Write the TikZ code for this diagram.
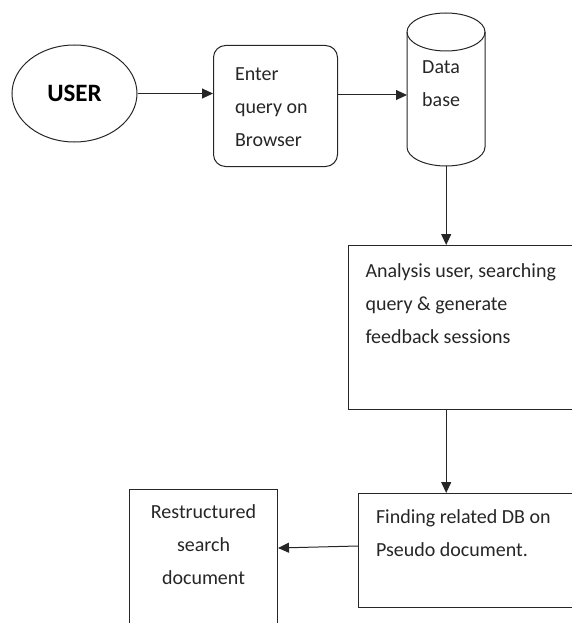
\documentclass[tikz,border=0pt]{standalone}
\usepackage{fontspec}
\setmainfont{Carlito}
\usetikzlibrary{arrows.meta,shapes.geometric}
\begin{document}
\begin{tikzpicture}[x=1pt,y=-1pt,
  line/.style={draw=black!85, line width=1pt},
  arr/.style={line, -{Triangle[length=11pt,width=10pt]}},
  boxtext/.style={font=\fontsize{20}{33}\selectfont, text=black!85},
  pbox/.style={line, rectangle, inner sep=0pt, anchor=north west, boxtext}
]
\useasboundingbox (0,0) rectangle (572,623);
\clip (0,0) rectangle (572,623);

% USER ellipse
\node[line, ellipse, minimum width=125pt, minimum height=97pt, inner sep=0pt,
  font=\fontsize{25}{30}\selectfont\bfseries, text=black] (user) at (74.5,93.5) {USER};

% Browser box
\node[pbox, rounded corners=12pt, minimum width=124pt, minimum height=121pt] (browser) at (213,45)
  {\hspace*{19pt}\parbox[c][121pt][t]{100pt}{\vspace*{22pt}\raggedright Enter\\query on\\Browser}};

% Database cylinder
\node[boxtext, inner sep=0pt, anchor=north west, minimum width=78pt, minimum height=153pt] (db) at (407,13)
  {\hspace*{15pt}\parbox[c][153pt][t]{63pt}{\vspace*{47pt}\raggedright Data\\base}};
\draw[line] (407,32) arc[start angle=180, end angle=540, x radius=39pt, y radius=19pt];
\draw[line] (407,32) -- (407,147) arc[start angle=180, end angle=360, x radius=39pt, y radius=19pt] -- (485,32);

% Analysis box
\node[pbox, minimum width=240pt, minimum height=164pt] (ana) at (348,245)
  {\hspace*{14pt}\parbox[c][164pt][t]{220pt}{\vspace*{18pt}\raggedright Analysis user, searching\\query \& generate\\feedback sessions}};

% Finding box
\node[pbox, minimum width=230pt, minimum height=114pt] (find) at (358,493)
  {\hspace*{15pt}\parbox[c][114pt][t]{210pt}{\vspace*{16pt}\raggedright Finding related DB on\\Pseudo document.}};

% Restructured box
\node[pbox, minimum width=148pt, minimum height=160pt] (rest) at (129,489)
  {\parbox[c][160pt][t]{148pt}{\vspace*{15pt}\centering Restructured\\search\\document}};

% connectors
\draw[arr] (user.east) -- (user.east -| browser.west);
\draw[arr] (browser.east |- 0,95) -- (db.west |- 0,95);
\draw[arr] (db.south) -- (db.south |- ana.north);
\draw[arr] (ana.south -| db.south) -- (find.north -| db.south);
\draw[arr] (find.west |- 0,546) -- (rest.east |- 0,548);
\end{tikzpicture}
\end{document}
